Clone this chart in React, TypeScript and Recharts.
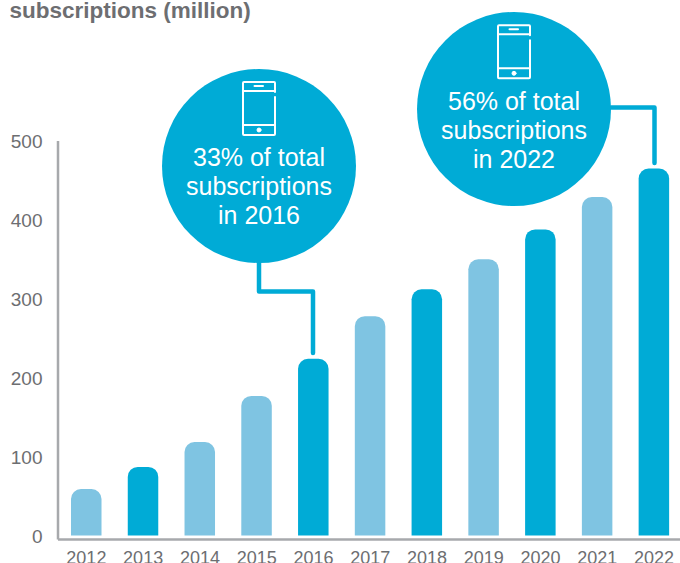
import React from "react";
import { BarChart, Bar, Cell, XAxis, YAxis } from "recharts";

const years = ["2012", "2013", "2014", "2015", "2016", "2017", "2018", "2019", "2020", "2021", "2022"];
const subscriptions = [59, 87, 118.5, 177, 224, 278, 312, 350, 388, 429, 465];
const strongYears = ["2013", "2016", "2018", "2020", "2022"];
const valueTicks = [0, 100, 200, 300, 400, 500];

const rows = years.map((year, i) => ({ year, subscriptions: subscriptions[i] }));

const DARK = "#00abd6";
const LIGHT = "#7fc4e2";
const AXIS = "#a7a9ac";
const INK = "#6d6e71";
const FONT = '"Liberation Sans", Arial, sans-serif';

function PhoneIcon({ x, y }: { x: number; y: number }) {
  return (
    <g transform={`translate(${x} ${y})`} fill="none" stroke="#fff" strokeWidth={2} strokeLinecap="round">
      <path d="M33 11 V2 Q33 1 32 1 H2 Q1 1 1 2 V53 Q1 54 2 54 H32 Q33 54 33 53 V16" />
      <path d="M1 10 H33" />
      <path d="M1 44 H33" />
      <path d="M12.5 5 H21" />
      <circle cx={17} cy={49} r={2} fill="#fff" strokeWidth={1} />
    </g>
  );
}

function Callout({ cx, cy, lines, iconY, firstBaseline }: { cx: number; cy: number; lines: string[]; iconY: number; firstBaseline: number }) {
  return (
    <g>
      <circle cx={cx} cy={cy} r={97} fill={DARK} />
      <PhoneIcon x={cx - 17} y={iconY} />
      {lines.map((line, i) => (
        <text key={line} x={cx} y={firstBaseline + i * 29.3} textAnchor="middle" fill="#fff" fontSize={25} fontFamily={FONT}>
          {line}
        </text>
      ))}
    </g>
  );
}

function Leader({ d }: { d: string }) {
  return <path d={d} fill="none" stroke={DARK} strokeWidth={4.5} strokeLinecap="round" strokeLinejoin="round" />;
}

export default function App() {
  return (
    <div style={{ position: "absolute", left: 0, top: 0, width: 680, height: 563, overflow: "hidden", background: "#fff" }}>
      <BarChart
        width={700}
        height={563}
        data={rows}
        margin={{ top: 141, right: 17.6, bottom: 0, left: 0 }}
        barSize={30.5}
      >
        <XAxis
          dataKey="year"
          axisLine={{ stroke: AXIS, strokeWidth: 2.5 }}
          tickLine={false}
          height={23.5}
          interval={0}
          tickMargin={6}
          tick={{ fill: INK, fontSize: 18, fontFamily: FONT }}
        />
        <YAxis
          type="number"
          domain={[-5, 500]}
          ticks={valueTicks}
          width={58}
          axisLine={{ stroke: AXIS, strokeWidth: 2.5 }}
          tickLine={false}
          tickMargin={9.5}
          tick={{ fill: INK, fontSize: 19, fontFamily: FONT, dy: 0.5 }}
        />
        <Bar dataKey="subscriptions" radius={[10, 10, 0, 0]} isAnimationActive={false}>
          {rows.map((row) => (
            <Cell key={row.year} fill={strongYears.includes(row.year) ? DARK : LIGHT} />
          ))}
        </Bar>
        <Leader d="M259 262 V291.5 H313 V353" />
        <Leader d="M611 107.5 H654.5 V163" />
        <Callout cx={259} cy={166} lines={["33% of total", "subscriptions", "in 2016"]} iconY={81} firstBaseline={165.8} />
        <Callout cx={514} cy={109} lines={["56% of total", "subscriptions", "in 2022"]} iconY={24.3} firstBaseline={109.5} />
        <text x={9.5} y={18} fill={INK} fontSize={22.5} fontWeight={700} fontFamily={FONT}>
          subscriptions (million)
        </text>
      </BarChart>
    </div>
  );
}
